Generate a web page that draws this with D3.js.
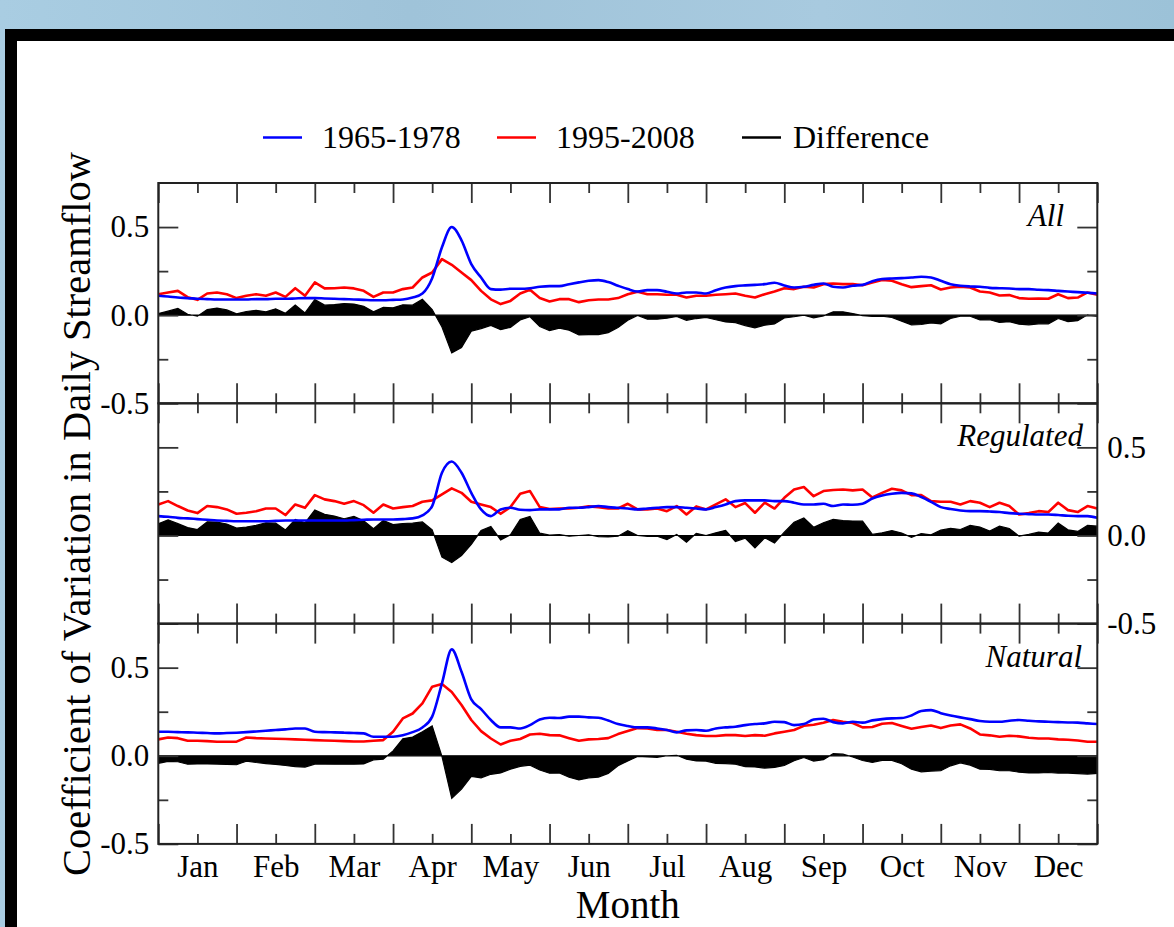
<!DOCTYPE html>
<html>
<head>
<meta charset="utf-8">
<script src="https://cdn.jsdelivr.net/npm/d3@7"></script>
<style>
html, body { margin: 0; padding: 0; background: #a4c7dc; }
svg { display: block; }
</style>
</head>
<body>
<div id="chart"></div>
<script>
var svgWidth = 1174;
var svgHeight = 927;

var months = ["Jan", "Feb", "Mar", "Apr", "May", "Jun", "Jul", "Aug", "Sep", "Oct", "Nov", "Dec"];
var seriesNames = ["1965-1978", "1995-2008", "Difference"];
var seriesColors = ["#0000ff", "#ff0000", "#000000"];
var panelNames = ["All", "Regulated", "Natural"];
var yMajorTicks = [-0.5, 0, 0.5];
var yMinorTicks = [-0.25, 0.25];

// sample positions in months (every 1/8 month), 97 points
var monthPos = d3.range(97).map(i => i / 8);

// All
var allEarly = [
  0.110, 0.106, 0.100, 0.097, 0.093, 0.091, 0.089, 0.089,
  0.089, 0.089, 0.091, 0.091, 0.093, 0.093, 0.095, 0.097,
  0.097, 0.095, 0.093, 0.091, 0.089, 0.087, 0.085, 0.085,
  0.087, 0.089, 0.100, 0.123, 0.210, 0.385, 0.500, 0.425,
  0.290, 0.214, 0.148, 0.145, 0.150, 0.150, 0.153, 0.161,
  0.165, 0.165, 0.176, 0.186, 0.195, 0.199, 0.188, 0.167,
  0.148, 0.134, 0.142, 0.142, 0.133, 0.123, 0.129, 0.129,
  0.123, 0.142, 0.157, 0.165, 0.169, 0.172, 0.176, 0.184,
  0.169, 0.157, 0.161, 0.172, 0.180, 0.161, 0.157, 0.167,
  0.172, 0.193, 0.205, 0.208, 0.210, 0.214, 0.218, 0.214,
  0.195, 0.176, 0.167, 0.163, 0.161, 0.155, 0.153, 0.151,
  0.148, 0.148, 0.144, 0.142, 0.138, 0.134, 0.131, 0.127,
  0.123
];
var allLate = [
  0.119, 0.129, 0.138, 0.102, 0.087, 0.123, 0.129, 0.119,
  0.097, 0.110, 0.119, 0.110, 0.129, 0.104, 0.153, 0.110,
  0.186, 0.152, 0.153, 0.157, 0.152, 0.138, 0.104, 0.129,
  0.129, 0.148, 0.157, 0.214, 0.242, 0.318, 0.286, 0.242,
  0.199, 0.138, 0.090, 0.063, 0.081, 0.123, 0.144, 0.097,
  0.078, 0.091, 0.091, 0.074, 0.085, 0.089, 0.089, 0.097,
  0.119, 0.133, 0.119, 0.119, 0.116, 0.116, 0.100, 0.110,
  0.110, 0.116, 0.119, 0.123, 0.110, 0.100, 0.119, 0.134,
  0.153, 0.148, 0.161, 0.157, 0.176, 0.180, 0.176, 0.176,
  0.170, 0.186, 0.200, 0.195, 0.176, 0.159, 0.165, 0.170,
  0.146, 0.157, 0.161, 0.157, 0.134, 0.129, 0.112, 0.114,
  0.097, 0.093, 0.095, 0.093, 0.119, 0.097, 0.100, 0.129,
  0.116
];

// Regulated
var regEarly = [
  0.110, 0.106, 0.100, 0.097, 0.093, 0.089, 0.085, 0.083,
  0.081, 0.081, 0.081, 0.081, 0.083, 0.085, 0.085, 0.085,
  0.085, 0.085, 0.085, 0.085, 0.087, 0.089, 0.091, 0.091,
  0.091, 0.093, 0.097, 0.114, 0.167, 0.356, 0.420, 0.356,
  0.242, 0.148, 0.110, 0.148, 0.157, 0.146, 0.144, 0.148,
  0.148, 0.148, 0.157, 0.157, 0.161, 0.167, 0.161, 0.157,
  0.153, 0.148, 0.153, 0.157, 0.161, 0.161, 0.157, 0.153,
  0.148, 0.161, 0.176, 0.195, 0.199, 0.199, 0.199, 0.195,
  0.195, 0.186, 0.176, 0.176, 0.180, 0.167, 0.176, 0.174,
  0.180, 0.210, 0.227, 0.237, 0.242, 0.239, 0.218, 0.191,
  0.161, 0.150, 0.142, 0.138, 0.138, 0.136, 0.133, 0.127,
  0.123, 0.121, 0.119, 0.119, 0.116, 0.112, 0.110, 0.110,
  0.100
];
var regLate = [
  0.176, 0.195, 0.167, 0.142, 0.127, 0.167, 0.161, 0.148,
  0.123, 0.129, 0.138, 0.153, 0.153, 0.116, 0.176, 0.157,
  0.229, 0.205, 0.195, 0.180, 0.195, 0.172, 0.129, 0.176,
  0.153, 0.161, 0.167, 0.191, 0.199, 0.233, 0.267, 0.242,
  0.191, 0.176, 0.161, 0.123, 0.161, 0.237, 0.252, 0.161,
  0.150, 0.153, 0.153, 0.157, 0.165, 0.161, 0.153, 0.153,
  0.180, 0.148, 0.148, 0.153, 0.138, 0.167, 0.119, 0.165,
  0.148, 0.176, 0.205, 0.161, 0.184, 0.129, 0.186, 0.153,
  0.214, 0.261, 0.275, 0.223, 0.252, 0.258, 0.261, 0.256,
  0.261, 0.216, 0.242, 0.265, 0.256, 0.229, 0.229, 0.195,
  0.191, 0.191, 0.176, 0.195, 0.186, 0.161, 0.186, 0.167,
  0.119, 0.127, 0.138, 0.133, 0.186, 0.144, 0.133, 0.167,
  0.153
];

// Natural
var natEarly = [
  0.136, 0.136, 0.134, 0.133, 0.131, 0.129, 0.127, 0.129,
  0.131, 0.134, 0.138, 0.142, 0.146, 0.150, 0.155, 0.155,
  0.136, 0.134, 0.133, 0.131, 0.129, 0.127, 0.108, 0.108,
  0.108, 0.116, 0.134, 0.161, 0.222, 0.411, 0.604, 0.477,
  0.320, 0.265, 0.203, 0.161, 0.161, 0.155, 0.174, 0.206,
  0.216, 0.214, 0.222, 0.222, 0.218, 0.216, 0.200, 0.180,
  0.169, 0.161, 0.161, 0.155, 0.146, 0.133, 0.144, 0.146,
  0.142, 0.155, 0.161, 0.165, 0.174, 0.180, 0.184, 0.193,
  0.191, 0.174, 0.180, 0.206, 0.210, 0.191, 0.184, 0.193,
  0.188, 0.201, 0.208, 0.212, 0.214, 0.229, 0.254, 0.259,
  0.242, 0.229, 0.218, 0.208, 0.197, 0.193, 0.193, 0.199,
  0.203, 0.199, 0.195, 0.193, 0.191, 0.189, 0.188, 0.184,
  0.180
];
var natLate = [
  0.093, 0.104, 0.100, 0.085, 0.085, 0.083, 0.080, 0.080,
  0.080, 0.104, 0.100, 0.098, 0.097, 0.095, 0.093, 0.091,
  0.089, 0.087, 0.085, 0.083, 0.081, 0.081, 0.085, 0.089,
  0.136, 0.212, 0.240, 0.297, 0.392, 0.407, 0.362, 0.288,
  0.203, 0.140, 0.098, 0.064, 0.085, 0.095, 0.121, 0.125,
  0.117, 0.116, 0.100, 0.085, 0.093, 0.095, 0.100, 0.123,
  0.140, 0.157, 0.155, 0.146, 0.146, 0.136, 0.125, 0.117,
  0.112, 0.112, 0.117, 0.117, 0.112, 0.117, 0.114, 0.127,
  0.136, 0.146, 0.170, 0.176, 0.188, 0.203, 0.193, 0.186,
  0.161, 0.163, 0.182, 0.186, 0.169, 0.153, 0.163, 0.172,
  0.157, 0.172, 0.178, 0.155, 0.121, 0.116, 0.108, 0.114,
  0.110, 0.102, 0.098, 0.098, 0.093, 0.091, 0.087, 0.080,
  0.080
];

var panelEarly = [allEarly, regEarly, natEarly];
var panelLate = [allLate, regLate, natLate];

var plotLeft = 158.3;
var plotRight = 1097.3;
var plotTop = 183;
var panelHeight = 220.3;
var serif = "'Liberation Serif', 'Times New Roman', Times, serif";

var svg = d3.select("#chart")
    .append("svg")
    .attr("width", svgWidth)
    .attr("height", svgHeight);

// light blue backdrop and black slide frame
var defs = svg.append("defs");
var grad = defs.append("linearGradient").attr("id", "sky")
    .attr("x1", "0").attr("y1", "0").attr("x2", "1").attr("y2", "0");
grad.append("stop").attr("offset", "0%").attr("stop-color", "#a9cde2");
grad.append("stop").attr("offset", "35%").attr("stop-color", "#9fc3d9");
grad.append("stop").attr("offset", "70%").attr("stop-color", "#a8cadf");
grad.append("stop").attr("offset", "100%").attr("stop-color", "#9cc2d8");

svg.append("rect").attr("width", svgWidth).attr("height", svgHeight).attr("fill", "url(#sky)");
svg.append("rect").attr("x", 5).attr("y", 29).attr("width", svgWidth - 5).attr("height", svgHeight - 29).attr("fill", "#000");
svg.append("rect").attr("x", 17).attr("y", 41).attr("width", svgWidth - 17).attr("height", svgHeight - 41).attr("fill", "#fff");

var x = d3.scaleLinear().domain([0, 12]).range([plotLeft, plotRight]);

function styleAxis(g) {
    g.select(".domain").remove();
    g.selectAll(".tick line").attr("stroke", "#333").attr("stroke-width", 1.8);
    g.attr("font-family", serif).attr("font-size", 31);
    g.selectAll(".tick text").attr("fill", "#000");
}

panelNames.forEach(function(name, i) {
    var top = plotTop + i * panelHeight;
    var bottom = top + panelHeight;
    var y = d3.scaleLinear().domain([-0.5, 0.75]).range([bottom, top]);

    var early = panelEarly[i];
    var late = panelLate[i];
    // Difference = later period minus earlier period
    var diff = late.map((v, k) => v - early[k]);

    var g = svg.append("g");

    defs.append("clipPath").attr("id", "clip" + i)
        .append("rect").attr("x", plotLeft).attr("y", top)
        .attr("width", plotRight - plotLeft).attr("height", panelHeight);

    var plot = g.append("g").attr("clip-path", `url(#clip${i})`);

    var area = d3.area()
        .x((d, k) => x(monthPos[k]))
        .y0(y(0))
        .y1(d => y(d));

    plot.append("path")
        .datum(diff)
        .attr("d", area)
        .attr("fill", seriesColors[2])
        .attr("stroke", seriesColors[2])
        .attr("stroke-width", 1.2);

    var smoothLine = d3.line()
        .x((d, k) => x(monthPos[k]))
        .y(d => y(d))
        .curve(d3.curveMonotoneX);
    var roughLine = d3.line()
        .x((d, k) => x(monthPos[k]))
        .y(d => y(d));

    plot.append("path")
        .datum(late)
        .attr("d", roughLine)
        .attr("fill", "none")
        .attr("stroke", seriesColors[1])
        .attr("stroke-width", 2.6)
        .attr("stroke-linejoin", "round");

    plot.append("path")
        .datum(early)
        .attr("d", smoothLine)
        .attr("fill", "none")
        .attr("stroke", seriesColors[0])
        .attr("stroke-width", 2.6)
        .attr("stroke-linejoin", "round");

    // month ticks, top and bottom, pointing inward
    var majorX = d3.range(0, 13);
    var minorX = d3.range(0.5, 12, 1);

    g.append("g").attr("transform", `translate(0,${top})`)
        .call(d3.axisTop(x).tickValues(majorX).tickSize(-20).tickSizeOuter(0).tickFormat(""))
        .call(styleAxis);
    g.append("g").attr("transform", `translate(0,${top})`)
        .call(d3.axisTop(x).tickValues(minorX).tickSize(-10).tickSizeOuter(0).tickFormat(""))
        .call(styleAxis);
    g.append("g").attr("transform", `translate(0,${bottom})`)
        .call(d3.axisBottom(x).tickValues(majorX).tickSize(-20).tickSizeOuter(0).tickFormat(""))
        .call(styleAxis);
    g.append("g").attr("transform", `translate(0,${bottom})`)
        .call(d3.axisBottom(x).tickValues(minorX).tickSize(-10).tickSizeOuter(0).tickFormat(""))
        .call(styleAxis);

    // value ticks on both sides; labels left on top and bottom panel, right on the middle one
    var leftMajor = d3.axisLeft(y).tickValues(yMajorTicks).tickSize(-20).tickSizeOuter(0).tickPadding(9)
        .tickFormat(i === 1 ? "" : d => d.toFixed(1));
    var rightMajor = d3.axisRight(y).tickValues(yMajorTicks).tickSize(-20).tickSizeOuter(0).tickPadding(10)
        .tickFormat(i === 1 ? d => d.toFixed(1) : "");

    g.append("g").attr("transform", `translate(${plotLeft},0)`).call(leftMajor).call(styleAxis);
    g.append("g").attr("transform", `translate(${plotLeft},0)`)
        .call(d3.axisLeft(y).tickValues(yMinorTicks).tickSize(-10).tickSizeOuter(0).tickFormat(""))
        .call(styleAxis);
    g.append("g").attr("transform", `translate(${plotRight},0)`).call(rightMajor).call(styleAxis);
    g.append("g").attr("transform", `translate(${plotRight},0)`)
        .call(d3.axisRight(y).tickValues(yMinorTicks).tickSize(-10).tickSizeOuter(0).tickFormat(""))
        .call(styleAxis);

    g.append("rect")
        .attr("x", plotLeft).attr("y", top)
        .attr("width", plotRight - plotLeft).attr("height", panelHeight)
        .attr("fill", "none").attr("stroke", "#222").attr("stroke-width", 2);

    var labelRight = [1064, 1083, 1082];
    g.append("text")
        .attr("x", labelRight[i])
        .attr("y", y(0.5) - 1)
        .attr("text-anchor", "end")
        .attr("font-family", serif)
        .attr("font-style", "italic")
        .attr("font-size", 31)
        .text(name);

    if (i === panelNames.length - 1) {
        g.append("g").attr("transform", `translate(0,${bottom})`)
            .call(d3.axisBottom(x).tickValues(minorX).tickSize(0).tickPadding(11)
                .tickFormat(d => months[Math.floor(d)]))
            .call(styleAxis);
    }
});

// axis titles
svg.append("text")
    .attr("x", (plotLeft + plotRight) / 2)
    .attr("y", 918)
    .attr("text-anchor", "middle")
    .attr("font-family", serif)
    .attr("font-size", 39)
    .text("Month");

svg.append("text")
    .attr("transform", "translate(90, 514) rotate(-90)")
    .attr("text-anchor", "middle")
    .attr("font-family", serif)
    .attr("font-size", 40.5)
    .text("Coefficient of Variation in Daily Streamflow");

// legend
var legendX = [263, 497, 742];
var legend = svg.append("g");
seriesNames.forEach(function(s, k) {
    legend.append("line")
        .attr("x1", legendX[k]).attr("x2", legendX[k] + 39)
        .attr("y1", 137.5).attr("y2", 137.5)
        .attr("stroke", seriesColors[k]).attr("stroke-width", 2.5);
    legend.append("text")
        .attr("x", legendX[k] + 59 - (k === 2 ? 8 : 0))
        .attr("y", 148)
        .attr("font-family", serif)
        .attr("font-size", 32)
        .text(s);
});
</script>
</body>
</html>
